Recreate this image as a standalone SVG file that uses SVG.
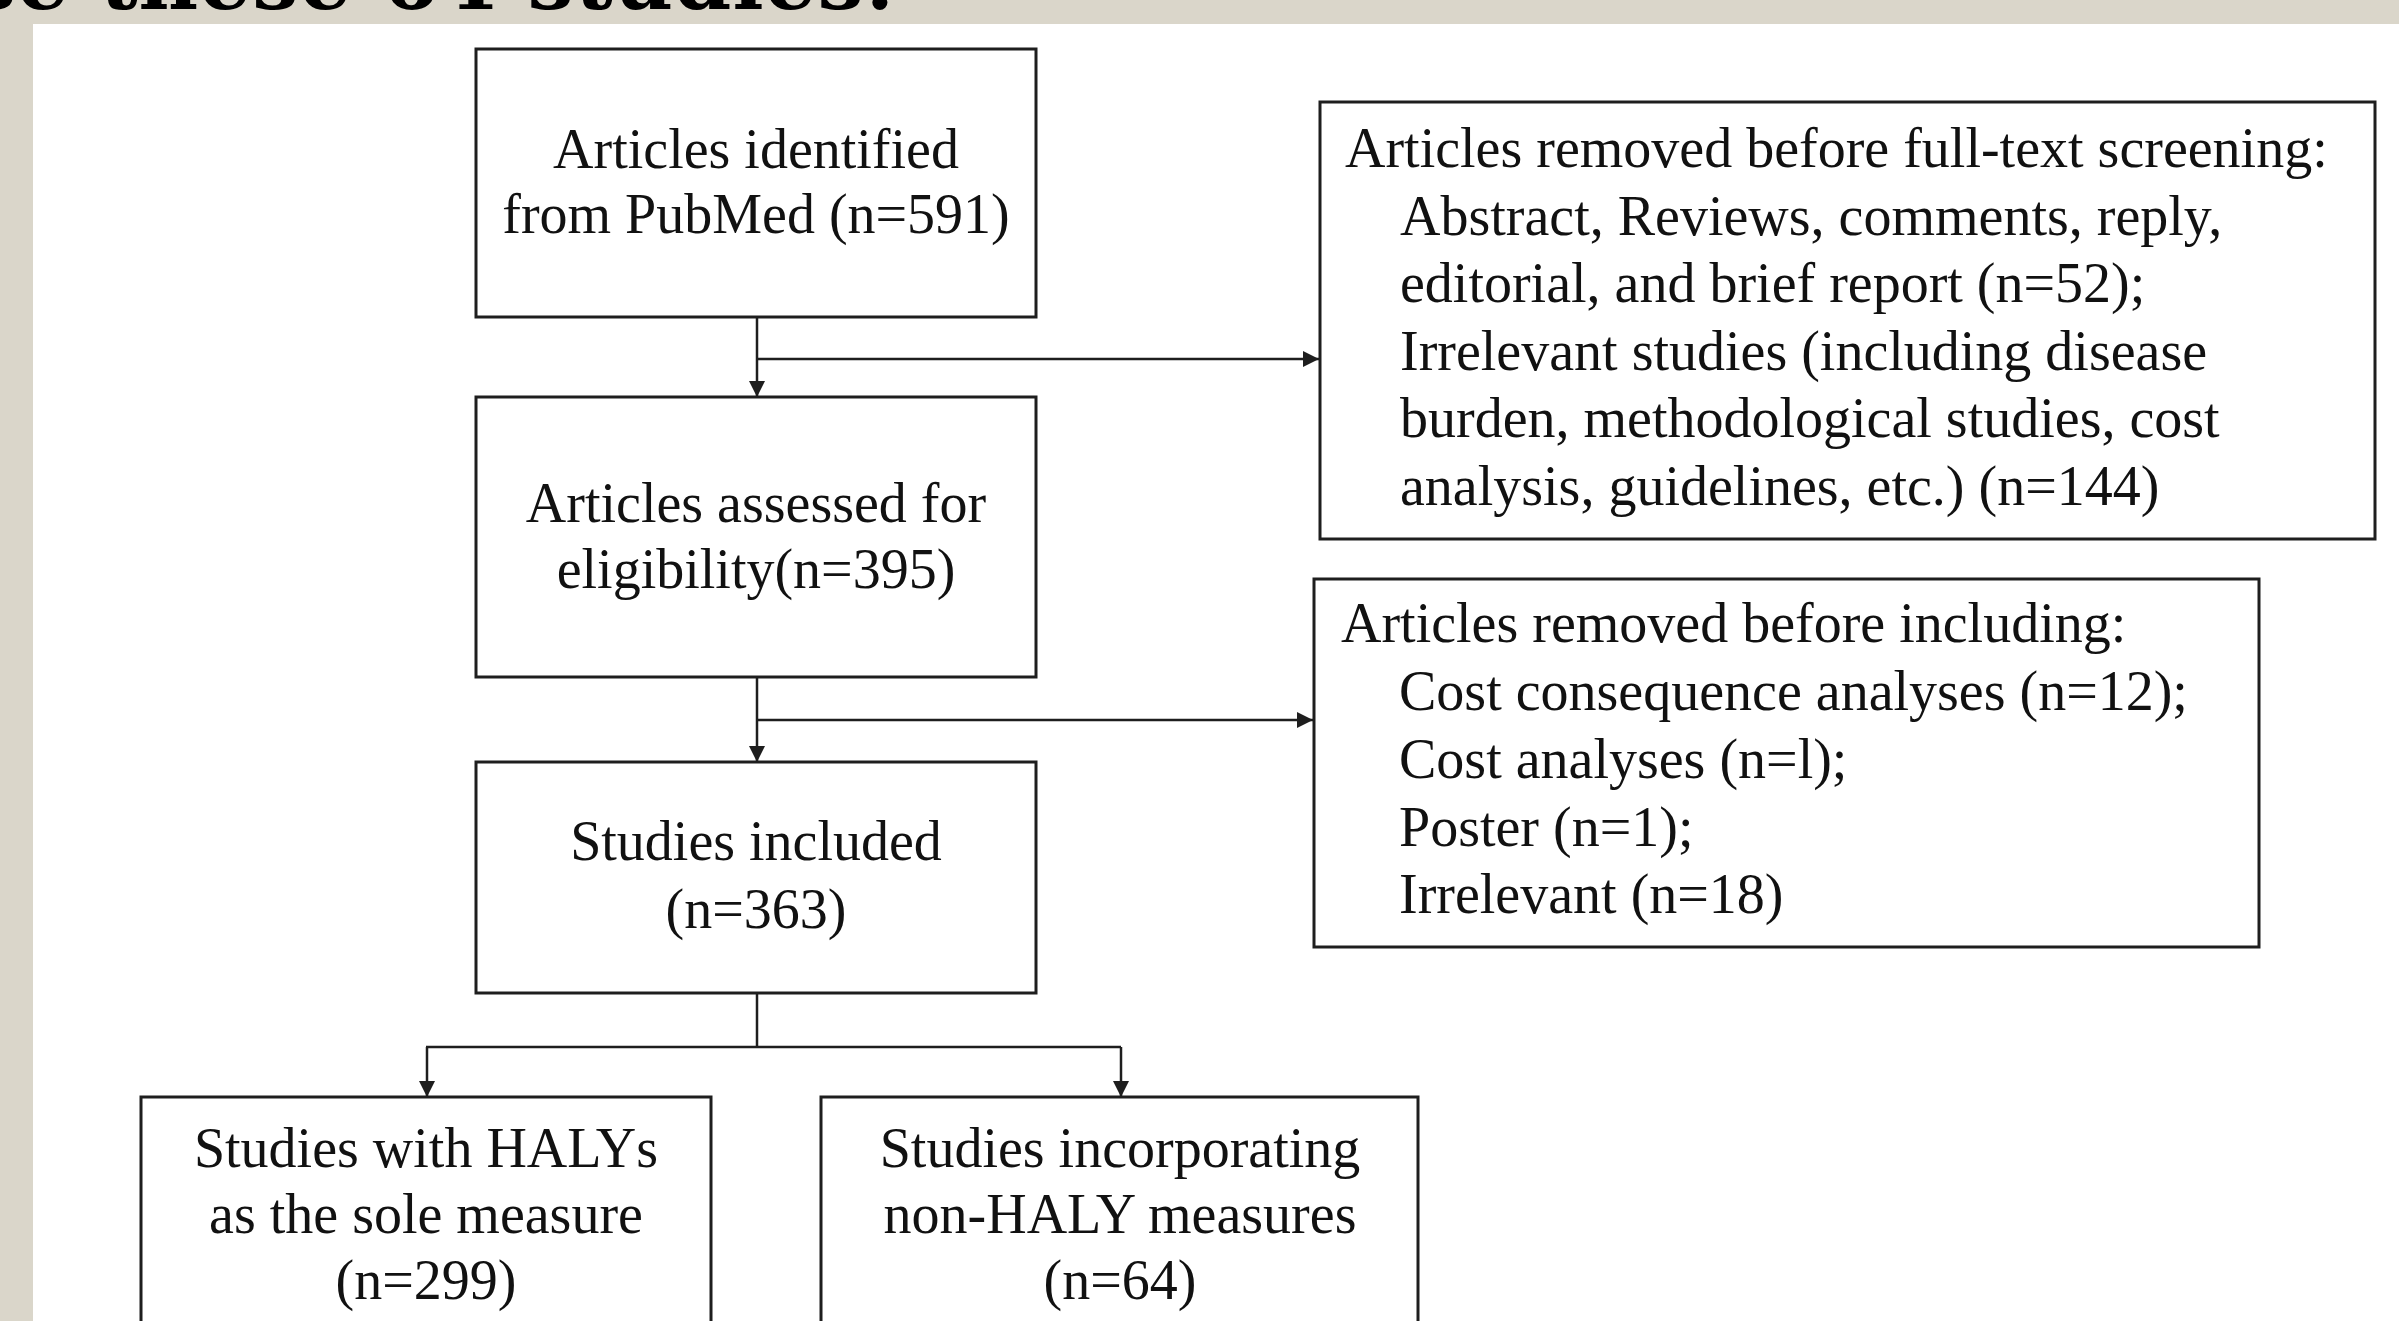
<svg xmlns="http://www.w3.org/2000/svg" width="2399" height="1321" viewBox="0 0 2399 1321">
  <style>
    .bg { fill: #DAD6CA; }
    .box { fill: #ffffff; stroke: #1e1e1e; stroke-width: 3; }
    .t { font-family: "Liberation Serif", "Times New Roman", serif; font-size: 56px; fill: #111111; }
    .c { text-anchor: middle; }
    .conn { fill: none; stroke: #1e1e1e; stroke-width: 2.5; }
    .head { font-family: "DejaVu Serif", "Liberation Serif", serif; font-weight: bold; font-size: 82px; fill: #000000; }
  </style>
  <defs>
    <marker id="arr" markerUnits="userSpaceOnUse" markerWidth="18" markerHeight="18" refX="16" refY="8" orient="auto">
      <path d="M0,0 L16,8 L0,16 Z" fill="#1e1e1e"/>
    </marker>
  </defs>

  <rect x="0" y="0" width="2399" height="1321" fill="#ffffff"/>
  <rect class="bg" x="0" y="0" width="2399" height="24"/>
  <rect class="bg" x="0" y="0" width="33" height="1321"/>
  <text class="head" x="-30" y="9" textLength="925" lengthAdjust="spacing">se these 64 studies:</text>

  <g id="connectors">
    <line class="conn" x1="757" y1="317" x2="757" y2="397" marker-end="url(#arr)"/>
    <line class="conn" x1="757" y1="359" x2="1319" y2="359" marker-end="url(#arr)"/>
    <line class="conn" x1="757" y1="677" x2="757" y2="762" marker-end="url(#arr)"/>
    <line class="conn" x1="757" y1="720" x2="1313" y2="720" marker-end="url(#arr)"/>
    <line class="conn" x1="757" y1="993" x2="757" y2="1047"/>
    <line class="conn" x1="426" y1="1047" x2="1121" y2="1047"/>
    <line class="conn" x1="427" y1="1047" x2="427" y2="1097" marker-end="url(#arr)"/>
    <line class="conn" x1="1121" y1="1047" x2="1121" y2="1097" marker-end="url(#arr)"/>
  </g>

  <g id="n-identified">
    <rect class="box" x="476" y="49" width="560" height="268"/>
    <text class="t c" x="756" y="168">Articles identified</text>
    <text class="t c" x="756" y="233">from PubMed (n=591)</text>
  </g>

  <g id="n-assessed">
    <rect class="box" x="476" y="397" width="560" height="280"/>
    <text class="t c" x="756" y="522">Articles assessed for</text>
    <text class="t c" x="756" y="588">eligibility(n=395)</text>
  </g>

  <g id="n-included">
    <rect class="box" x="476" y="762" width="560" height="231"/>
    <text class="t c" x="756" y="860">Studies included</text>
    <text class="t c" x="756" y="928">(n=363)</text>
  </g>

  <g id="n-haly">
    <rect class="box" x="141" y="1097" width="570" height="240"/>
    <text class="t c" x="426" y="1167">Studies with HALYs</text>
    <text class="t c" x="426" y="1233">as the sole measure</text>
    <text class="t c" x="426" y="1299">(n=299)</text>
  </g>

  <g id="n-nonhaly">
    <rect class="box" x="821" y="1097" width="597" height="240"/>
    <text class="t c" x="1120" y="1167">Studies incorporating</text>
    <text class="t c" x="1120" y="1233">non-HALY measures</text>
    <text class="t c" x="1120" y="1299">(n=64)</text>
  </g>

  <g id="n-removed-screening">
    <rect class="box" x="1320" y="102" width="1055" height="437"/>
    <text class="t" x="1345" y="167">Articles removed before full-text screening:</text>
    <text class="t" x="1400" y="235">Abstract, Reviews, comments, reply,</text>
    <text class="t" x="1400" y="302">editorial, and brief report (n=52);</text>
    <text class="t" x="1400" y="370">Irrelevant studies (including disease</text>
    <text class="t" x="1400" y="437">burden, methodological studies, cost</text>
    <text class="t" x="1400" y="505">analysis, guidelines, etc.) (n=144)</text>
  </g>

  <g id="n-removed-including">
    <rect class="box" x="1314" y="579" width="945" height="368"/>
    <text class="t" x="1341" y="642">Articles removed before including:</text>
    <text class="t" x="1399" y="710">Cost consequence analyses (n=12);</text>
    <text class="t" x="1399" y="778">Cost analyses (n=l);</text>
    <text class="t" x="1399" y="846">Poster (n=1);</text>
    <text class="t" x="1399" y="913">Irrelevant (n=18)</text>
  </g>
</svg>
